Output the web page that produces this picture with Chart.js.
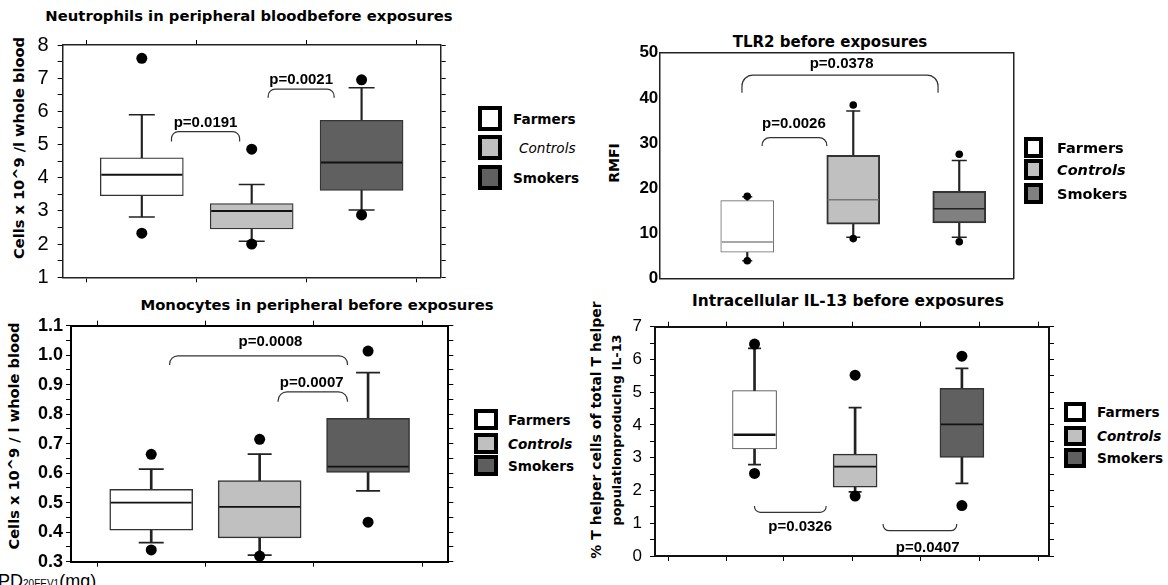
<!DOCTYPE html>
<html>
<head>
<meta charset="utf-8">
<script src="https://cdn.jsdelivr.net/npm/chart.js@4.4.1/dist/chart.umd.min.js"></script>
<style>
  body { margin: 0; background: #fff; width: 1168px; height: 585px; overflow: hidden; position: relative; }
  canvas { position: absolute; }
  .title { position: absolute; font: bold 14.8px "DejaVu Sans", sans-serif; white-space: nowrap; transform: translate(-50%, -50%); color: #000; }
  .ylab { position: absolute; font: bold 14.6px "DejaVu Sans", sans-serif; white-space: nowrap; text-align: center; transform: translate(-50%, -50%) rotate(-90deg); color: #000; }
  .legbox { position: absolute; box-sizing: border-box; border: 4px solid #000; }
  .leglab { position: absolute; font: bold 13.6px "DejaVu Sans", sans-serif; white-space: nowrap; transform: translateY(-50%); color: #000; }
  .foot { position: absolute; left: -2px; top: 571px; font: 18px "Liberation Sans", sans-serif; white-space: nowrap; }
  .foot small { font-size: 10px; }
</style>
</head>
<body>

<div class="title" style="left:249px;top:15px">Neutrophils in peripheral bloodbefore exposures</div>
<div class="title" style="left:317px;top:304px">Monocytes in peripheral before exposures</div>
<div class="title" style="left:830px;top:42px;font-size:15px">TLR2 before exposures</div>
<div class="title" style="left:848px;top:301px;font-size:15.4px">Intracellular IL-13 before exposures</div>

<div class="ylab" style="left:18px;top:148px">Cells x 10^9 /l whole blood</div>
<div class="ylab" style="left:13px;top:436px">Cells x 10^9 / l whole blood</div>
<div class="ylab" style="left:614px;top:163px;font-size:14px">RMFI</div>
<div class="ylab" style="left:606px;top:430px;line-height:20px"><span style="font-size:14px">% T helper cells of total T helper</span><br><span style="font-size:12.8px">populationproducing IL-13</span></div>

<div class="foot">PD<small>20FEV1</small>(mg)</div>

<canvas id="neu"></canvas>
<canvas id="mono"></canvas>
<canvas id="tlr"></canvas>
<canvas id="il13"></canvas>

<script>
// ============================================
// DATA
// ============================================

const groups = ['Farmers', 'Controls', 'Smokers'];

// Neutrophils in peripheral blood
const neuPos = [0, 1, 2];
const neuLow = [2.82, 2.09, 3.03];
const neuQ1 = [3.46, 2.46, 3.62];
const neuMed = [4.09, 3.00, 4.46];
const neuQ3 = [4.60, 3.22, 5.73];
const neuHigh = [5.90, 3.80, 6.71];
const neuOutTop = [7.60, 4.86, 6.95];
const neuOutBottom = [2.33, 2.00, 2.88];
const neuYTicks = [1, 2, 3, 4, 5, 6, 7, 8];
const neuPvals = [
    { x1: 0.27, x2: 0.89, y: 5.39, leg: 5.09, tx: 0.58, ty: 5.66, text: 'p=0.0191' },
    { x1: 1.15, x2: 1.75, y: 6.67, leg: 6.41, tx: 1.45, ty: 6.95, text: 'p=0.0021' }
];

// Monocytes in peripheral blood
const monoPos = [0, 1, 2];
const monoLow = [0.365, 0.322, 0.540];
const monoQ1 = [0.407, 0.381, 0.603];
const monoMed = [0.500, 0.486, 0.622];
const monoQ3 = [0.545, 0.575, 0.786];
const monoHigh = [0.614, 0.665, 0.941];
const monoOutTop = [0.664, 0.715, 1.014];
const monoOutBottom = [0.340, 0.319, 0.434];
const monoYTicks = [0.3, 0.4, 0.5, 0.6, 0.7, 0.8, 0.9, 1.0, 1.1];
const monoPvals = [
    { x1: 0.17, x2: 1.81, y: 0.998, leg: 0.967, tx: 1.10, ty: 1.046, text: 'p=0.0008' },
    { x1: 1.17, x2: 1.81, y: 0.876, leg: 0.842, tx: 1.48, ty: 0.907, text: 'p=0.0007' }
];

// TLR2
const tlrPos = [0, 1, 2];
const tlrLow = [3.9, 9.1, 9.1];
const tlrQ1 = [5.8, 12.0, 12.3];
const tlrMed = [8.05, 17.4, 15.4];
const tlrQ3 = [17.2, 27.25, 19.3];
const tlrHigh = [18.1, 37.1, 26.1];
const tlrOutTop = [18.2, 38.4, 27.5];
const tlrOutBottom = [3.9, 8.8, 8.1];
const tlrYTicks = [0, 10, 20, 30, 40, 50];
const tlrPvals = [
    { x1: -0.05, x2: 1.80, y: 45.05, leg: 41.1, tx: 0.89, ty: 47.5, text: 'p=0.0378' },
    { x1: 0.14, x2: 0.75, y: 31.2, leg: 29.3, tx: 0.44, ty: 34.2, text: 'p=0.0026' }
];

// Intracellular IL-13
const il13Pos = [0, 0.97, 2];
const il13Low = [2.79, 1.96, 2.22];
const il13Q1 = [3.27, 2.10, 3.01];
const il13Med = [3.70, 2.73, 4.02];
const il13Q3 = [5.05, 3.11, 5.12];
const il13High = [6.34, 4.53, 5.73];
const il13OutTop = [6.47, 5.52, 6.10];
const il13OutBottom = [2.52, 1.83, 1.54];
const il13YTicks = [0, 1, 2, 3, 4, 5, 6, 7];
const il13XTicks = [-0.55, 0, 0.55, 1.33, 1.88, 2.45];
const il13Pvals = [
    { x1: 0.0, x2: 0.69, y: 1.334, leg: 1.526, tx: 0.44, ty: 0.876, text: 'p=0.0326' },
    { x1: 1.24, x2: 1.95, y: 0.772, leg: 0.977, tx: 1.67, ty: 0.235, text: 'p=0.0407' }
];

// ============================================
// DRAWING
// ============================================

const bracketPlugin = {
    id: 'brackets',
    afterDatasetsDraw(chart, args, opts) {
        const { ctx } = chart;
        const xs = chart.scales.x, ys = chart.scales.y;
        ctx.save();
        ctx.strokeStyle = '#333';
        ctx.lineWidth = 1.2;
        ctx.fillStyle = '#000';
        ctx.font = 'bold 15px "Liberation Sans", Arial, sans-serif';
        ctx.textAlign = 'center';
        ctx.textBaseline = 'middle';
        opts.items.forEach(b => {
            const x1 = xs.getPixelForValue(b.x1);
            const x2 = xs.getPixelForValue(b.x2);
            const yt = ys.getPixelForValue(b.y);
            const yl = ys.getPixelForValue(b.leg);
            const r = Math.min(opts.radius, Math.abs(yl - yt) * 0.9);
            ctx.beginPath();
            ctx.moveTo(x1, yl);
            ctx.arcTo(x1, yt, x2, yt, r);
            ctx.arcTo(x2, yt, x2, yl, r);
            ctx.lineTo(x2, yl);
            ctx.stroke();
            ctx.fillText(b.text, xs.getPixelForValue(b.tx), ys.getPixelForValue(b.ty));
        });
        ctx.restore();
    }
};

// scales keep a fixed size and ask for no extra room for their labels
function fixSize(s, w, h) {
    if (w !== null) s.width = w;
    if (h !== null) s.height = h;
    s.paddingTop = 0;
    s.paddingBottom = 0;
    s.paddingLeft = 0;
    s.paddingRight = 0;
}

function boxPanel(id, p) {
    const canvas = document.getElementById(id);
    const [cx, cy, cw, ch] = p.canvas;
    canvas.style.left = cx + 'px';
    canvas.style.top = cy + 'px';
    canvas.style.width = cw + 'px';
    canvas.style.height = ch + 'px';
    canvas.width = cw;
    canvas.height = ch;

    const YW = 50, Y2W = 8, XH = 8, X2H = 8;
    const padding = {
        left: p.area.left - cx - YW,
        right: cx + cw - p.area.right - Y2W,
        top: p.area.top - cy - X2H,
        bottom: cy + ch - p.area.bottom - XH
    };

    // major ticks + minor halfway ticks
    const majors = p.yTicks;
    const yVals = [];
    majors.forEach((v, i) => {
        yVals.push(v);
        if (p.minor && i < majors.length - 1) yVals.push((v + majors[i + 1]) / 2);
    });
    const isMajor = v => majors.some(m => Math.abs(m - v) < 1e-9);
    const xTickVals = p.xTicks || p.pos;

    const tickGrid = (show) => ({
        display: show,
        drawOnChartArea: false,
        drawTicks: true,
        tickLength: p.tickLen,
        color: '#000',
        lineWidth: 1
    });
    const border = { display: true, color: p.axisColor, width: p.axisW };

    const xScale = (pos) => ({
        type: 'linear',
        position: pos,
        min: p.xMin,
        max: p.xMax,
        offset: false,
        afterBuildTicks: s => { s.ticks = xTickVals.map(v => ({ value: v })); },
        ticks: { display: false },
        grid: tickGrid(p.xTickMarks),
        border: border,
        afterFit: s => fixSize(s, null, pos === 'top' ? X2H : XH)
    });

    const yScale = (pos) => ({
        type: 'linear',
        position: pos,
        min: majors[0],
        max: majors[majors.length - 1],
        afterBuildTicks: s => { s.ticks = yVals.map(v => ({ value: v })); },
        ticks: {
            display: pos === 'left',
            autoSkip: false,
            padding: p.labelPad,
            color: '#000',
            font: p.tickFont,
            callback: v => isMajor(v) ? p.fmt(v) : ''
        },
        grid: tickGrid(pos === 'left' ? p.yTickMarks : p.y2TickMarks),
        border: border,
        afterFit: s => fixSize(s, pos === 'left' ? YW : Y2W, null)
    });

    const whiskers = p.pos.map((x, i) => ({ x: x, y: [p.low[i], p.high[i]] }));
    const boxes = p.pos.map((x, i) => ({ x: x, y: [p.q1[i], p.q3[i]] }));
    const medians = p.pos.map((x, i) => ({ x: x, y: p.med[i] }));
    const caps = p.pos.map((x, i) => ({ x: x, y: p.low[i] }))
        .concat(p.pos.map((x, i) => ({ x: x, y: p.high[i] })));
    const outliers = p.pos.map((x, i) => ({ x: x, y: p.outTop[i] }))
        .concat(p.pos.map((x, i) => ({ x: x, y: p.outBottom[i] })));

    return new Chart(canvas, {
        type: 'bar',
        data: {
            datasets: [
                {
                    type: 'bar',
                    data: whiskers,
                    backgroundColor: '#222',
                    borderWidth: 0,
                    barThickness: p.whiskerW,
                    grouped: false,
                    order: 5
                },
                {
                    type: 'bar',
                    data: boxes,
                    backgroundColor: p.fills,
                    borderColor: p.boxBorder,
                    borderWidth: p.boxBorderW,
                    borderSkipped: false,
                    barThickness: p.boxW,
                    grouped: false,
                    order: 4
                },
                {
                    type: 'line',
                    data: medians,
                    showLine: false,
                    pointStyle: 'line',
                    pointRadius: p.boxW / 2 - 1,
                    pointBorderColor: p.medColor,
                    pointBorderWidth: p.medW,
                    order: 3
                },
                {
                    type: 'line',
                    data: caps,
                    showLine: false,
                    pointStyle: 'line',
                    pointRadius: p.capR.concat(p.capR),
                    pointBorderColor: '#222',
                    pointBorderWidth: p.capW,
                    order: 3
                },
                {
                    type: 'line',
                    data: outliers,
                    showLine: false,
                    pointStyle: 'circle',
                    pointRadius: p.dotR,
                    pointBackgroundColor: '#000',
                    pointBorderWidth: 0,
                    order: 1
                }
            ]
        },
        options: {
            responsive: false,
            animation: false,
            events: [],
            layout: { padding: padding, autoPadding: false },
            plugins: {
                legend: { display: false },
                tooltip: { enabled: false },
                brackets: { items: p.pvals, radius: p.bracketR }
            },
            scales: {
                x: xScale('bottom'),
                x2: xScale('top'),
                y: yScale('left'),
                y2: yScale('right')
            }
        },
        plugins: [bracketPlugin]
    });
}

function legend(l) {
    groups.forEach((g, i) => {
        const box = document.createElement('div');
        box.className = 'legbox';
        box.style.left = l.x + 'px';
        box.style.top = l.ys[i] + 'px';
        box.style.width = l.w + 'px';
        box.style.height = l.h + 'px';
        box.style.background = l.fills[i];
        document.body.appendChild(box);

        const lab = document.createElement('div');
        lab.className = 'leglab';
        lab.textContent = g;
        lab.style.left = (l.labelX[i] || l.labelX[0]) + 'px';
        lab.style.top = (l.ys[i] + l.h / 2) + 'px';
        lab.style.fontSize = l.size + 'px';
        if (g === 'Controls') {
            lab.style.fontStyle = 'italic';
            if (l.lightControls) lab.style.fontWeight = 'normal';
        }
        document.body.appendChild(lab);
    });
}

boxPanel('neu', {
    canvas: [0, 30, 470, 262],
    area: { left: 62.7, right: 440.7, top: 45, bottom: 277.3 },
    xMin: -0.72, xMax: 2.72,
    pos: neuPos, low: neuLow, q1: neuQ1, med: neuMed, q3: neuQ3, high: neuHigh,
    outTop: neuOutTop, outBottom: neuOutBottom,
    yTicks: neuYTicks, minor: true, fmt: v => String(v),
    tickFont: { family: '"Liberation Sans", Arial, sans-serif', size: 20 },
    labelPad: 9, tickLen: 5, xTickMarks: true, yTickMarks: true, y2TickMarks: true,
    axisColor: '#222', axisW: 1.5,
    fills: ['#ffffff', '#c0c0c0', '#606060'],
    boxBorder: '#333', boxBorderW: 1.3, boxW: 83,
    medColor: '#111', medW: 2,
    whiskerW: 1.5, capR: [13, 13, 13], capW: 1.5, dotR: 5.5,
    pvals: neuPvals, bracketR: 7
});

boxPanel('mono', {
    canvas: [0, 312, 470, 265],
    area: { left: 71, right: 448.3, top: 325.7, bottom: 561.7 },
    xMin: -0.74, xMax: 2.74,
    pos: monoPos, low: monoLow, q1: monoQ1, med: monoMed, q3: monoQ3, high: monoHigh,
    outTop: monoOutTop, outBottom: monoOutBottom,
    yTicks: monoYTicks, minor: true, fmt: v => v.toFixed(1),
    tickFont: { family: '"Liberation Sans", Arial, sans-serif', size: 18, weight: 'bold' },
    labelPad: 3, tickLen: 5, xTickMarks: true, yTickMarks: true, y2TickMarks: true,
    axisColor: '#000', axisW: 2,
    fills: ['#ffffff', '#c0c0c0', '#5e5e5e'],
    boxBorder: '#333', boxBorderW: 1.5, boxW: 83,
    medColor: '#111', medW: 1.8,
    whiskerW: 2, capR: [12.5, 12, 12], capW: 1.8, dotR: 5.5,
    pvals: monoPvals, bracketR: 10
});

boxPanel('tlr', {
    canvas: [590, 40, 440, 250],
    area: { left: 659.3, right: 1013.3, top: 52.7, bottom: 278.3 },
    xMin: -0.83, xMax: 2.51,
    pos: tlrPos, low: tlrLow, q1: tlrQ1, med: tlrMed, q3: tlrQ3, high: tlrHigh,
    outTop: tlrOutTop, outBottom: tlrOutBottom,
    yTicks: tlrYTicks, minor: false, fmt: v => String(v),
    tickFont: { family: '"Liberation Sans", Arial, sans-serif', size: 17, weight: 'bold' },
    labelPad: 1, tickLen: 0, xTickMarks: false, yTickMarks: false, y2TickMarks: false,
    axisColor: '#222', axisW: 1.5,
    fills: ['#ffffff', '#c0c0c0', '#808080'],
    boxBorder: ['#666', '#333', '#333'], boxBorderW: [1, 2, 2], boxW: 53,
    medColor: ['#888', '#777', '#222'], medW: [1.5, 1.5, 1.5],
    whiskerW: 1.5, capR: [5, 7, 7.5], capW: 1.5, dotR: 3.8,
    pvals: tlrPvals, bracketR: 11
});

boxPanel('il13', {
    canvas: [590, 315, 470, 255],
    area: { left: 655, right: 1049, top: 326.7, bottom: 556 },
    xMin: -0.96, xMax: 2.84, xTicks: il13XTicks,
    pos: il13Pos, low: il13Low, q1: il13Q1, med: il13Med, q3: il13Q3, high: il13High,
    outTop: il13OutTop, outBottom: il13OutBottom,
    yTicks: il13YTicks, minor: true, fmt: v => String(v),
    tickFont: { family: '"Liberation Sans", Arial, sans-serif', size: 17 },
    labelPad: 8, tickLen: 5, xTickMarks: true, yTickMarks: true, y2TickMarks: true,
    axisColor: '#111', axisW: 2,
    fills: ['#ffffff', '#c0c0c0', '#606060'],
    boxBorder: ['#444', '#333', '#333'], boxBorderW: [1, 1.5, 1.5], boxW: 44,
    medColor: '#111', medW: [2.5, 1.8, 1.8],
    whiskerW: 2, capR: [6.5, 6.5, 6.5], capW: 1.8, dotR: 5.5,
    pvals: il13Pvals, bracketR: 6
});

legend({ x: 478, ys: [106, 135, 165], w: 24, h: 25, size: 13.6, labelX: [513, 519, 513], lightControls: true,
    fills: ['#ffffff', '#c0c0c0', '#606060'] });
legend({ x: 474, ys: [409, 433, 455], w: 24, h: 21, size: 13.6, labelX: [508],
    fills: ['#ffffff', '#c0c0c0', '#5e5e5e'] });
legend({ x: 1024, ys: [137, 159, 183], w: 19, h: 21, size: 14.5, labelX: [1057],
    fills: ['#ffffff', '#c0c0c0', '#808080'] });
legend({ x: 1064, ys: [402, 426, 448], w: 22, h: 20, size: 13.6, labelX: [1097],
    fills: ['#ffffff', '#c0c0c0', '#606060'] });
</script>
</body>
</html>
